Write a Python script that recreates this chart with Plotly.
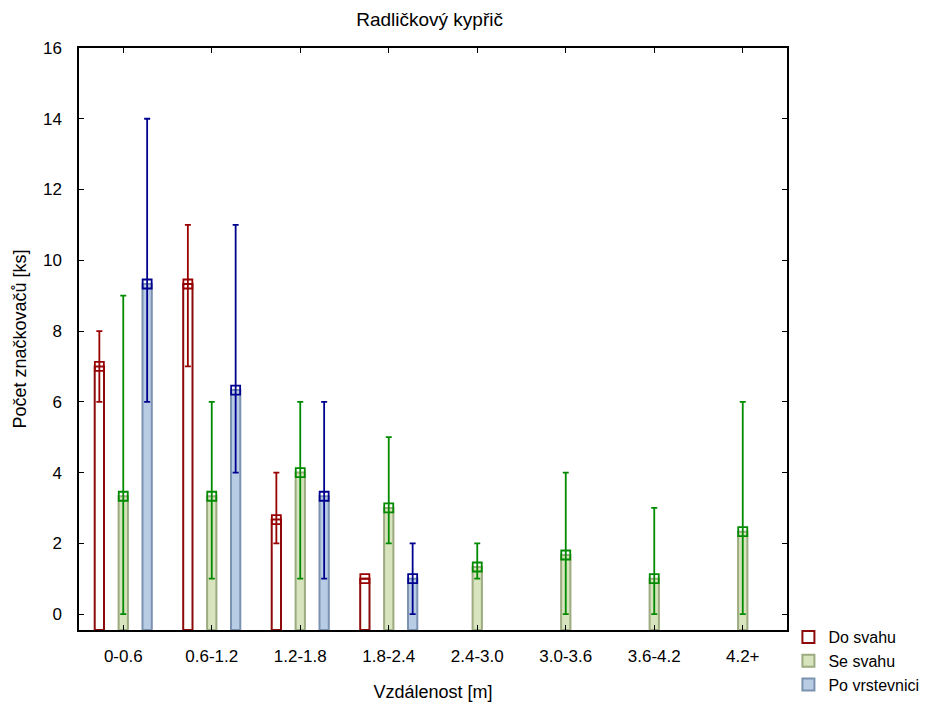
import plotly.graph_objects as go

categories = ["0-0.6", "0.6-1.2", "1.2-1.8", "1.8-2.4", "2.4-3.0", "3.0-3.6", "3.6-4.2", "4.2+"]
series_names = ["Do svahu", "Se svahu", "Po vrstevnici"]

do_mean = [7.0, 9.33, 2.67, 1.0, None, None, None, None]
do_min = [6, 7, 2, 1, None, None, None, None]
do_max = [8, 11, 4, 1, None, None, None, None]

se_mean = [3.33, 3.33, 4.0, 3.0, 1.33, 1.67, 1.0, 2.33]
se_min = [0, 1, 1, 2, 1, 0, 0, 0]
se_max = [9, 6, 6, 5, 2, 4, 3, 6]

po_mean = [9.33, 6.33, 3.33, 1.0, None, None, None, None]
po_min = [6, 4, 1, 0, None, None, None, None]
po_max = [14, 11, 6, 2, None, None, None, None]

Y_MIN, Y_MAX = -0.45, 16

styles = [
    dict(fill="#ffffff", outline="#8c0a0a", err="#990000", offset=-0.27),
    dict(fill="#d7e4bd", outline="#9cab80", err="#008a00", offset=0.0),
    dict(fill="#b8cce4", outline="#7b92b0", err="#00008f", offset=0.27),
]
data = [(do_mean, do_min, do_max), (se_mean, se_min, se_max), (po_mean, po_min, po_max)]

fig = go.Figure()
for name, st, (m, lo, hi) in zip(series_names, styles, data):
    xs = [i + st["offset"] for i in range(len(categories))]
    heights = [None if v is None else v - Y_MIN for v in m]
    fig.add_trace(go.Bar(
        x=xs, y=heights, base=Y_MIN, width=0.105, name=name,
        marker=dict(color=st["fill"], line=dict(color=st["outline"], width=2)),
        showlegend=True,
    ))
    plus = [None if v is None else h - v for v, h in zip(m, hi)]
    minus = [None if v is None else v - l for v, l in zip(m, lo)]
    fig.add_trace(go.Scatter(
        x=xs, y=m, mode="markers", showlegend=False,
        marker=dict(symbol="square-open", size=9, color=st["err"], line=dict(width=1.8)),
        error_y=dict(type="data", array=plus, arrayminus=minus, symmetric=False,
                     color=st["err"], thickness=1.8, width=3),
    ))

font = "Liberation Sans, Arial, sans-serif"
# page body has an 8px default margin: figure is sized so the plot box lands at 79..787 x 48..630
fig.update_layout(
    width=935, height=695,
    margin=dict(l=71, r=156, t=40, b=73, autoexpand=False),
    paper_bgcolor="white", plot_bgcolor="white",
    font=dict(family=font, size=17, color="black"),
    title=dict(text="Radličkový kypřič", x=(471 - 8) / 935, xref="paper", xanchor="center",
               y=1 - 11 / 695, yanchor="middle", font=dict(size=19)),
    barmode="overlay",
    legend=dict(x=1.002, y=0.017, xanchor="left", yanchor="top", font=dict(size=16),
                bgcolor="rgba(0,0,0,0)", tracegroupgap=0, itemwidth=30),
)
fig.update_xaxes(
    range=[-0.5, 7.5], tickmode="array", tickvals=list(range(len(categories))),
    ticktext=categories, showline=True, linecolor="black", linewidth=1.5, mirror="ticks",
    ticks="inside", ticklen=5, tickcolor="black", showgrid=False, zeroline=False,
    ticklabelstandoff=10,
    title=dict(text="Vzdálenost [m]", font=dict(size=18), standoff=20),
)
fig.update_yaxes(
    range=[Y_MIN, Y_MAX], tickmode="linear", tick0=0, dtick=2,
    showline=True, linecolor="black", linewidth=1.5, mirror="ticks",
    ticks="inside", ticklen=5, tickcolor="black", showgrid=False, zeroline=False,
    ticklabelstandoff=12,
    title=dict(text="Počet značkovačů [ks]", font=dict(size=18), standoff=12),
)
fig.write_html("out.html")
